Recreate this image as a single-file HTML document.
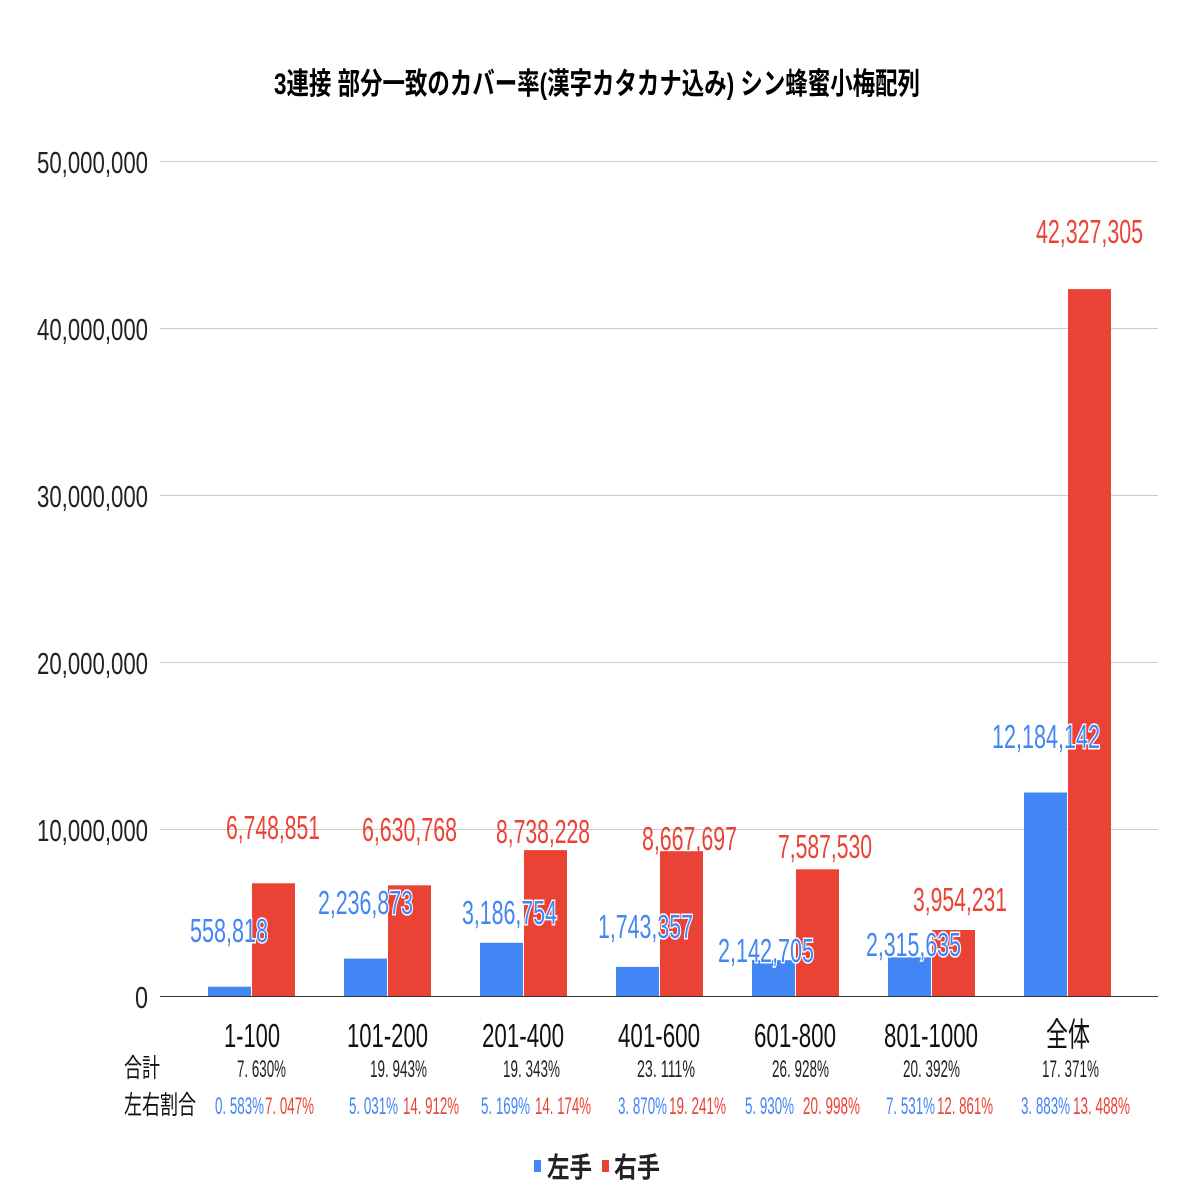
<!DOCTYPE html>
<html><head><meta charset="utf-8"><style>
html,body{margin:0;padding:0;background:#fff;}
svg{display:block;}
text{font-family:"Liberation Sans","Noto Sans CJK JP",sans-serif;}
</style></head><body>
<svg width="1196" height="1196" viewBox="0 0 1196 1196" xmlns="http://www.w3.org/2000/svg">
<rect width="1196" height="1196" fill="#fff"/>
<text x="274" y="94" font-size="30" font-weight="bold" fill="#000" textLength="646" lengthAdjust="spacingAndGlyphs">3連接 部分一致のカバー率(漢字カタカナ込み) シン蜂蜜小梅配列</text>
<g stroke="#cccccc" stroke-width="1">
<line x1="160" y1="161.5" x2="1158" y2="161.5"/>
<line x1="160" y1="328.5" x2="1158" y2="328.5"/>
<line x1="160" y1="495.5" x2="1158" y2="495.5"/>
<line x1="160" y1="662.5" x2="1158" y2="662.5"/>
<line x1="160" y1="829.5" x2="1158" y2="829.5"/>
</g>
<g font-size="31" fill="#222" text-anchor="end">
<text x="148" y="173" textLength="111" lengthAdjust="spacingAndGlyphs">50,000,000</text>
<text x="148" y="340" textLength="111" lengthAdjust="spacingAndGlyphs">40,000,000</text>
<text x="148" y="507" textLength="111" lengthAdjust="spacingAndGlyphs">30,000,000</text>
<text x="148" y="674" textLength="111" lengthAdjust="spacingAndGlyphs">20,000,000</text>
<text x="148" y="841" textLength="111" lengthAdjust="spacingAndGlyphs">10,000,000</text>
<text x="148" y="1008" textLength="13" lengthAdjust="spacingAndGlyphs">0</text>
</g>
<g fill="#4285f4">
<rect x="208" y="986.7" width="43" height="9.3"/>
<rect x="344" y="958.6" width="43" height="37.4"/>
<rect x="480" y="942.8" width="43" height="53.2"/>
<rect x="616" y="966.9" width="43" height="29.1"/>
<rect x="752" y="960.2" width="43" height="35.8"/>
<rect x="888" y="957.3" width="43" height="38.7"/>
<rect x="1024" y="792.5" width="43" height="203.5"/>
</g>
<g fill="#ea4335">
<rect x="252" y="883.3" width="43" height="112.7"/>
<rect x="388" y="885.3" width="43" height="110.7"/>
<rect x="524" y="850.1" width="43" height="145.9"/>
<rect x="660" y="851.2" width="43" height="144.8"/>
<rect x="796" y="869.3" width="43" height="126.7"/>
<rect x="932" y="930" width="43" height="66"/>
<rect x="1068" y="289.1" width="43" height="706.9"/>
</g>
<line x1="160" y1="996.5" x2="1158" y2="996.5" stroke="#333" stroke-width="1"/>
<g font-size="33" fill="#ea4335">
<text x="226" y="839" textLength="94" lengthAdjust="spacingAndGlyphs">6,748,851</text>
<text x="362" y="841" textLength="95" lengthAdjust="spacingAndGlyphs">6,630,768</text>
<text x="496" y="843" textLength="94" lengthAdjust="spacingAndGlyphs">8,738,228</text>
<text x="642" y="850" textLength="95" lengthAdjust="spacingAndGlyphs">8,667,697</text>
<text x="778" y="858" textLength="94" lengthAdjust="spacingAndGlyphs">7,587,530</text>
<text x="913" y="911" textLength="94" lengthAdjust="spacingAndGlyphs">3,954,231</text>
<text x="1036" y="243" textLength="107" lengthAdjust="spacingAndGlyphs">42,327,305</text>
</g>
<g font-size="33" fill="#4285f4" stroke="#fff" stroke-width="3" paint-order="stroke">
<text x="190" y="942" textLength="78" lengthAdjust="spacingAndGlyphs">558,818</text>
<text x="318" y="914" textLength="95" lengthAdjust="spacingAndGlyphs">2,236,873</text>
<text x="462" y="924" textLength="95" lengthAdjust="spacingAndGlyphs">3,186,754</text>
<text x="598" y="938" textLength="95" lengthAdjust="spacingAndGlyphs">1,743,357</text>
<text x="718" y="962" textLength="96" lengthAdjust="spacingAndGlyphs">2,142,705</text>
<text x="866" y="956" textLength="95" lengthAdjust="spacingAndGlyphs">2,315,635</text>
<text x="992" y="748" textLength="108" lengthAdjust="spacingAndGlyphs">12,184,142</text>
</g>
<g font-size="33" fill="#111">
<text x="224" y="1047" textLength="56" lengthAdjust="spacingAndGlyphs">1-100</text>
<text x="347" y="1047" textLength="81" lengthAdjust="spacingAndGlyphs">101-200</text>
<text x="482" y="1047" textLength="82" lengthAdjust="spacingAndGlyphs">201-400</text>
<text x="618" y="1047" textLength="82" lengthAdjust="spacingAndGlyphs">401-600</text>
<text x="754" y="1047" textLength="82" lengthAdjust="spacingAndGlyphs">601-800</text>
<text x="884" y="1047" textLength="94" lengthAdjust="spacingAndGlyphs">801-1000</text>
<text x="1046" y="1046" textLength="44" lengthAdjust="spacingAndGlyphs">全体</text>
</g>
<g font-size="26" fill="#111">
<text x="124" y="1077" textLength="36" lengthAdjust="spacingAndGlyphs">合計</text>
<text x="124" y="1114" textLength="72" lengthAdjust="spacingAndGlyphs">左右割合</text>
</g>
<g font-size="24" fill="#222">
<text x="237" y="1077" textLength="49" lengthAdjust="spacingAndGlyphs">7. 630%</text>
<text x="370" y="1077" textLength="57" lengthAdjust="spacingAndGlyphs">19. 943%</text>
<text x="503" y="1077" textLength="57" lengthAdjust="spacingAndGlyphs">19. 343%</text>
<text x="637" y="1077" textLength="58" lengthAdjust="spacingAndGlyphs">23. 111%</text>
<text x="772" y="1077" textLength="57" lengthAdjust="spacingAndGlyphs">26. 928%</text>
<text x="903" y="1077" textLength="57" lengthAdjust="spacingAndGlyphs">20. 392%</text>
<text x="1042" y="1077" textLength="57" lengthAdjust="spacingAndGlyphs">17. 371%</text>
</g>
<g font-size="24" fill="#4285f4">
<text x="215" y="1114" textLength="49" lengthAdjust="spacingAndGlyphs">0. 583%</text>
<text x="349" y="1114" textLength="49" lengthAdjust="spacingAndGlyphs">5. 031%</text>
<text x="481" y="1114" textLength="49" lengthAdjust="spacingAndGlyphs">5. 169%</text>
<text x="618" y="1114" textLength="49" lengthAdjust="spacingAndGlyphs">3. 870%</text>
<text x="745" y="1114" textLength="49" lengthAdjust="spacingAndGlyphs">5. 930%</text>
<text x="886" y="1114" textLength="49" lengthAdjust="spacingAndGlyphs">7. 531%</text>
<text x="1021" y="1114" textLength="49" lengthAdjust="spacingAndGlyphs">3. 883%</text>
</g>
<g font-size="24" fill="#ea4335">
<text x="265" y="1114" textLength="49" lengthAdjust="spacingAndGlyphs">7. 047%</text>
<text x="403" y="1114" textLength="56" lengthAdjust="spacingAndGlyphs">14. 912%</text>
<text x="535" y="1114" textLength="56" lengthAdjust="spacingAndGlyphs">14. 174%</text>
<text x="669" y="1114" textLength="57" lengthAdjust="spacingAndGlyphs">19. 241%</text>
<text x="803" y="1114" textLength="57" lengthAdjust="spacingAndGlyphs">20. 998%</text>
<text x="937" y="1114" textLength="56" lengthAdjust="spacingAndGlyphs">12. 861%</text>
<text x="1073" y="1114" textLength="57" lengthAdjust="spacingAndGlyphs">13. 488%</text>
</g>
<rect x="534" y="1160" width="7" height="12" fill="#4285f4"/>
<text x="547" y="1177" font-size="28" font-weight="bold" fill="#222" textLength="45" lengthAdjust="spacingAndGlyphs">左手</text>
<rect x="602" y="1160" width="7" height="12" fill="#ea4335"/>
<text x="614" y="1177" font-size="28" font-weight="bold" fill="#222" textLength="46" lengthAdjust="spacingAndGlyphs">右手</text>
</svg>
</body></html>
